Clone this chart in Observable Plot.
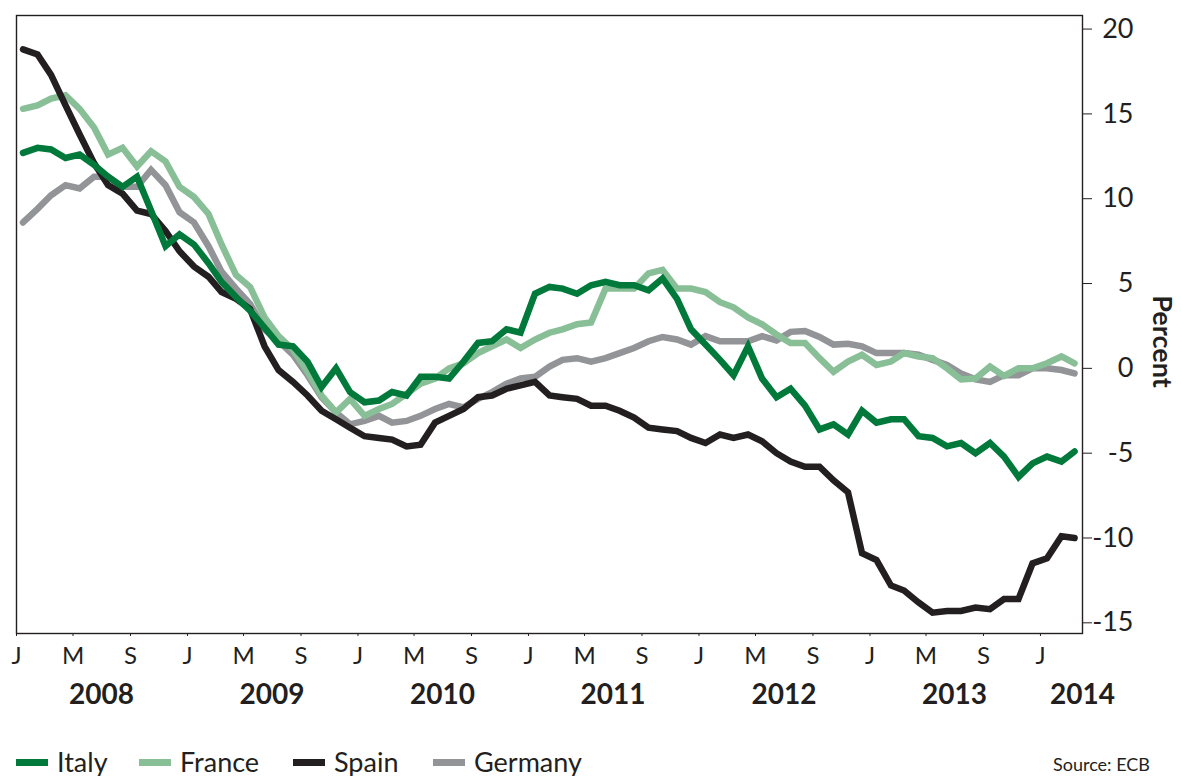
<!DOCTYPE html>
<html><head><meta charset="utf-8">
<script src="https://cdn.jsdelivr.net/npm/d3@7"></script>
<script src="https://cdn.jsdelivr.net/npm/@observablehq/plot@0.6"></script>
<style>
body{margin:0;background:#fff;font-family:Lato,"Open Sans",sans-serif;color:#231f20;}
#wrap{position:relative;width:1181px;height:776px;}
#chart{position:absolute;left:0;top:0;}
.item{position:absolute;top:748px;display:flex;align-items:center;font-size:27px;line-height:28px;height:28px;}
.sw{width:32px;height:7px;margin-right:9px;}
.source{position:absolute;left:1053px;top:753px;font-size:18px;line-height:22px;}
</style></head><body><div id="wrap"><div id="chart"></div></div>
<script>
const countries = ["Italy", "France", "Spain", "Germany"];
const colors = ["#00793a", "#88bf97", "#231f20", "#929497"];
const italy = [12.7,13.0,12.9,12.4,12.6,12.0,11.3,10.7,11.3,9.3,7.2,7.9,7.3,6.2,5.1,4.2,3.4,2.4,1.4,1.3,0.4,-1.1,0.0,-1.4,-2.0,-1.9,-1.4,-1.6,-0.5,-0.5,-0.6,0.4,1.5,1.6,2.3,2.1,4.4,4.8,4.7,4.4,4.9,5.1,4.9,4.9,4.6,5.3,4.1,2.3,1.4,0.5,-0.4,1.3,-0.6,-1.7,-1.2,-2.2,-3.6,-3.3,-3.9,-2.5,-3.2,-3.0,-3.0,-4.0,-4.1,-4.6,-4.4,-5.0,-4.4,-5.2,-6.4,-5.6,-5.2,-5.5,-4.9];
const france = [15.3,15.5,15.9,16.1,15.3,14.2,12.6,13.0,11.9,12.8,12.2,10.7,10.1,9.1,7.3,5.5,4.8,3.0,1.9,1.1,-0.2,-1.6,-2.6,-1.8,-2.8,-2.4,-2.1,-1.5,-0.9,-0.6,0.0,0.3,0.9,1.3,1.7,1.2,1.7,2.1,2.3,2.6,2.7,4.7,4.7,4.7,5.6,5.8,4.7,4.7,4.5,3.9,3.6,3.0,2.6,2.0,1.5,1.5,0.6,-0.2,0.4,0.8,0.2,0.4,0.9,0.7,0.6,0.0,-0.65,-0.6,0.1,-0.45,0.0,0.0,0.3,0.7,0.3];
const spain = [18.8,18.5,17.3,15.5,13.8,12.1,10.8,10.3,9.3,9.1,8.1,6.9,6.0,5.4,4.5,4.1,3.5,1.3,-0.1,-0.8,-1.6,-2.5,-3.0,-3.5,-4.0,-4.1,-4.2,-4.6,-4.5,-3.2,-2.8,-2.4,-1.7,-1.6,-1.2,-1.0,-0.8,-1.6,-1.7,-1.8,-2.2,-2.2,-2.5,-2.9,-3.5,-3.6,-3.7,-4.1,-4.4,-3.9,-4.1,-3.9,-4.3,-5.0,-5.5,-5.8,-5.8,-6.6,-7.3,-10.9,-11.3,-12.8,-13.1,-13.8,-14.4,-14.3,-14.3,-14.1,-14.2,-13.6,-13.6,-11.5,-11.2,-9.9,-10.0];
const germany = [8.6,9.4,10.2,10.8,10.6,11.3,11.3,10.7,10.7,11.7,10.8,9.2,8.6,7.2,5.7,4.7,3.8,2.3,1.6,0.8,-0.4,-1.7,-2.6,-3.3,-3.1,-2.8,-3.2,-3.1,-2.8,-2.4,-2.1,-2.3,-1.8,-1.4,-0.9,-0.6,-0.5,0.1,0.5,0.6,0.4,0.6,0.9,1.2,1.6,1.85,1.7,1.4,1.9,1.6,1.6,1.6,1.9,1.65,2.15,2.2,1.85,1.4,1.45,1.3,0.9,0.9,0.9,0.8,0.5,0.2,-0.3,-0.65,-0.8,-0.4,-0.4,0.0,0.0,-0.1,-0.3];
const monthLetters = {0: "J", 4: "M", 8: "S"};
const yTicks = [20, 15, 10, 5, 0, -5, -10, -15];
const yearLabels = ["2008", "2009", "2010", "2011", "2012", "2013", "2014"];
const sourceText = "Source: ECB";

const xStart = new Date(Date.UTC(2008, 0, 1));
const xEnd = new Date(Date.UTC(2014, 3, 1));
const monthDate = i => new Date(Date.UTC(2008, i, 15));
const toRows = arr => arr.map((v, i) => ({date: monthDate(i), value: v}));
const series = {Italy: italy, France: france, Spain: spain, Germany: germany};
const tickDates = d3.utcMonth.every(4).range(xStart, new Date(Date.UTC(2014, 1, 1)));
const yearPos = y => { const d = new Date(Date.UTC(+y, 6, 1)); return d > xEnd ? xEnd : d; };

const drawOrder = ["Germany", "France", "Spain", "Italy"];
const chart = Plot.plot({
  width: 1181, height: 720,
  marginLeft: 16, marginRight: 99, marginTop: 15, marginBottom: 87,
  style: {fontFamily: "Lato, 'Open Sans', sans-serif", color: "#231f20", background: "transparent", overflow: "visible"},
  x: {type: "utc", domain: [xStart, xEnd], label: null},
  y: {domain: [-15.63, 20.8], label: null},
  marks: [
    Plot.frame({stroke: "#231f20", strokeWidth: 1.4}),
    Plot.axisX({ticks: tickDates, tickFormat: d => monthLetters[d.getUTCMonth()], tickSize: 3, tickPadding: 10, fontSize: 24, label: null}),
    Plot.axisY({anchor: "right", ticks: yTicks, tickFormat: d => String(d), tickSize: 9, tickPadding: 42, textAnchor: "end", fontSize: 27, label: null}),
    ...drawOrder.map(name => Plot.line(toRows(series[name]), {
      x: "date", y: "value", stroke: colors[countries.indexOf(name)],
      strokeWidth: 6.5, strokeLinejoin: "miter", strokeMiterlimit: 4
    })),
    Plot.text(yearLabels, {x: yearPos, frameAnchor: "bottom", dy: 70, fontSize: 28, fontWeight: "bold"}),
    Plot.text(["Percent"], {frameAnchor: "right", textAnchor: "middle", dx: 79, dy: 17, rotate: 90, fontSize: 27, fontWeight: "bold"})
  ]
});
document.getElementById("chart").appendChild(chart);

const wrap = document.getElementById("wrap");
const legendLefts = [16, 139, 293, 433];
countries.forEach((c, i) => {
  const item = document.createElement("div");
  item.className = "item";
  item.style.left = legendLefts[i] + "px";
  const sw = document.createElement("span");
  sw.className = "sw";
  sw.style.background = colors[i];
  const t = document.createElement("span");
  t.textContent = c;
  item.appendChild(sw); item.appendChild(t);
  wrap.appendChild(item);
});
const src = document.createElement("div");
src.className = "source";
src.textContent = sourceText;
wrap.appendChild(src);
</script>
</body></html>
